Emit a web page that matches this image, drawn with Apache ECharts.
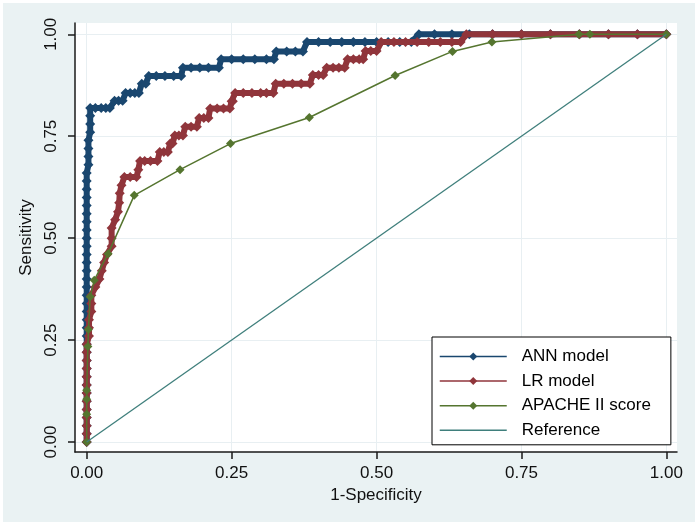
<!DOCTYPE html>
<html><head><meta charset="utf-8">
<script src="https://cdn.jsdelivr.net/npm/echarts@6/dist/echarts.min.js"></script>
<style>html,body{margin:0;padding:0;background:#fff}#c{width:699px;height:526px}</style>
</head><body><div id="c"></div>
<script>
const tickValues = [0, 0.25, 0.5, 0.75, 1];
const seriesNames = ['ANN model', 'LR model', 'APACHE II score', 'Reference'];

const annROC = [
 [0,0],[0,0.02],[0,0.04],[0,0.06],[0,0.08],[0,0.10],[0,0.12],[0,0.14],[0,0.16],[0,0.18],
 [0,0.20],[0,0.22],[0,0.24],[0,0.26],[0,0.28],[0,0.30],[0,0.32],[0,0.34],[0,0.36],[0,0.38],
 [0,0.40],[0,0.42],[0,0.44],[0,0.46],[0,0.48],[0,0.50],[0,0.52],[0,0.54],[0,0.56],[0,0.58],
 [0,0.60],[0,0.62],[0,0.64],[0,0.66],[0.003,0.68],[0.003,0.70],[0.003,0.72],[0.003,0.74],
 [0.006,0.76],[0.006,0.78],[0.006,0.80],[0.006,0.819],
 [0.015,0.819],[0.025,0.819],[0.033,0.819],[0.040,0.819],
 [0.048,0.837],[0.055,0.837],[0.062,0.837],
 [0.067,0.856],[0.075,0.856],[0.083,0.856],[0.090,0.856],
 [0.095,0.879],[0.102,0.879],
 [0.107,0.898],[0.120,0.898],[0.135,0.898],[0.150,0.898],[0.163,0.898],
 [0.166,0.918],[0.180,0.918],[0.195,0.918],[0.210,0.918],[0.228,0.918],
 [0.232,0.939],[0.250,0.939],[0.270,0.939],[0.290,0.939],[0.310,0.939],[0.323,0.939],
 [0.327,0.958],[0.345,0.958],[0.360,0.958],[0.373,0.958],
 [0.380,0.981],[0.400,0.981],[0.420,0.981],[0.440,0.981],[0.460,0.981],[0.480,0.981],
 [0.500,0.981],[0.520,0.981],[0.540,0.981],[0.560,0.981],
 [0.573,1],[0.600,1],[0.630,1],[0.660,1],[0.700,1],[0.750,1],[0.800,1],[0.850,1],[0.900,1],[0.950,1],[1,1]
];

const lrROC = [
 [0,0],[0,0.02],[0,0.04],[0,0.06],[0,0.08],[0,0.10],[0,0.12],[0,0.14],[0,0.16],[0,0.18],
 [0,0.20],[0,0.22],[0,0.24],[0.004,0.26],[0.004,0.28],[0.004,0.30],[0.008,0.32],[0.008,0.34],
 [0.008,0.36],[0.015,0.38],[0.022,0.40],[0.026,0.42],[0.030,0.44],[0.035,0.46],[0.043,0.48],
 [0.043,0.50],[0.043,0.525],[0.049,0.545],[0.054,0.565],[0.056,0.587],[0.057,0.61],[0.060,0.63],
 [0.065,0.65],[0.075,0.65],[0.086,0.65],
 [0.089,0.668],
 [0.092,0.689],[0.100,0.689],[0.110,0.689],[0.122,0.689],
 [0.126,0.711],[0.133,0.711],[0.140,0.711],
 [0.144,0.732],[0.148,0.732],
 [0.152,0.752],[0.159,0.752],[0.166,0.752],
 [0.170,0.773],[0.180,0.773],[0.190,0.773],
 [0.194,0.795],[0.202,0.795],[0.210,0.795],
 [0.213,0.818],[0.225,0.818],[0.236,0.818],[0.247,0.818],
 [0.250,0.836],[0.252,0.836],
 [0.256,0.856],[0.270,0.856],[0.285,0.856],[0.300,0.856],[0.310,0.856],[0.322,0.856],
 [0.326,0.879],[0.340,0.879],[0.355,0.879],[0.370,0.879],[0.385,0.879],
 [0.390,0.900],[0.400,0.900],[0.408,0.900],
 [0.414,0.918],[0.425,0.918],[0.435,0.918],[0.445,0.918],
 [0.450,0.939],[0.460,0.939],[0.470,0.939],[0.477,0.939],
 [0.481,0.959],[0.490,0.959],[0.500,0.959],
 [0.508,0.981],[0.530,0.981],[0.550,0.981],[0.570,0.981],[0.590,0.981],[0.610,0.981],[0.630,0.981],[0.645,0.981],
 [0.655,1],[0.700,1],[0.750,1],[0.800,1],[0.850,1],[0.900,1],[0.950,1],[1,1]
];

const apacheROC = [
 [0,0],[0,0.068],[0,0.105],[0,0.127],[0.002,0.234],[0.003,0.276],[0.006,0.356],[0.013,0.397],
 [0.037,0.462],[0.082,0.605],[0.161,0.668],[0.248,0.732],[0.384,0.796],[0.532,0.899],
 [0.631,0.958],[0.699,0.981],[0.849,1],[0.868,1],[1,1]
];

const referenceLine = [[0,0],[1,1]];

const colors = ['#1a476f', '#90353b', '#55752f', '#3f7f7c'];
const FONT = "'Liberation Sans', Arial, Helvetica, sans-serif";
const axisColor = '#1a1a1a';
const gridColor = '#e8eff2';

const chart = echarts.init(document.getElementById('c'), null, {renderer: 'canvas'});

function axisBase(min, max) {
  return {
    type: 'value', min: min, max: max,
    axisLine: {show: true, onZero: false, lineStyle: {color: axisColor, width: 1.5}},
    axisTick: {show: true, length: 7, customValues: tickValues, lineStyle: {color: axisColor, width: 1.5}},
    axisLabel: {customValues: tickValues, formatter: v => v.toFixed(2), fontSize: 17, color: '#111', fontFamily: FONT},
    splitLine: {show: true, lineStyle: {color: gridColor, width: 1}},
    nameLocation: 'middle',
    nameTextStyle: {fontSize: 17, color: '#111', fontFamily: FONT}
  };
}

const xAxis = axisBase(-0.0202, 1.0183);
xAxis.name = '1-Specificity';
xAxis.nameGap = 26;
xAxis.axisLabel.margin = 13;

const yAxis = axisBase(-0.0245, 1.0277);
yAxis.name = 'Sensitivity';
yAxis.nameGap = 31;
yAxis.axisLabel.rotate = 90;
yAxis.axisLabel.margin = 15;

function rocSeries(name, data, color, z) {
  return {
    name: name, type: 'line', data: data, z: z,
    symbol: 'diamond', symbolSize: 10, clip: false,
    lineStyle: {color: color, width: 6},
    itemStyle: {color: color},
    emphasis: {disabled: true}
  };
}

const option = {
  backgroundColor: '#fff',
  animation: false,
  graphic: [{type: 'rect', z: -10, silent: true, shape: {x: 3, y: 3, width: 692, height: 519}, style: {fill: '#eaf2f3'}}],
  grid: {left: 75, right: 22, top: 23, bottom: 74, show: true, backgroundColor: '#fff', borderWidth: 0},
  xAxis: xAxis,
  yAxis: yAxis,
  legend: {
    data: [seriesNames[0], seriesNames[1], seriesNames[2], {name: seriesNames[3], itemStyle: {opacity: 0}}],
    orient: 'vertical', left: 432, top: 337,
    padding: [11, 20, 6, 7],
    itemWidth: 67, itemHeight: 10, itemGap: 7.6,
    backgroundColor: '#fff', borderColor: '#000', borderWidth: 1, borderRadius: 0,
    lineStyle: {width: 1.5},
    textStyle: {fontSize: 17, color: '#000', fontFamily: FONT, lineHeight: 10, padding: [0, 0, 0, 10]},
    selectedMode: false
  },
  series: [
    rocSeries(seriesNames[0], annROC, colors[0], 2),
    rocSeries(seriesNames[1], lrROC, colors[1], 3),
    {
      name: seriesNames[2], type: 'line', data: apacheROC, z: 4,
      symbol: 'diamond', symbolSize: 9, clip: false,
      lineStyle: {color: colors[2], width: 1.5},
      itemStyle: {color: colors[2]},
      emphasis: {disabled: true}
    },
    {
      name: seriesNames[3], type: 'line', data: referenceLine, z: 5,
      symbol: 'none', clip: false,
      lineStyle: {color: colors[3], width: 1.3},
      itemStyle: {color: colors[3]},
      emphasis: {disabled: true}
    }
  ]
};
chart.setOption(option);
</script>
</body></html>
